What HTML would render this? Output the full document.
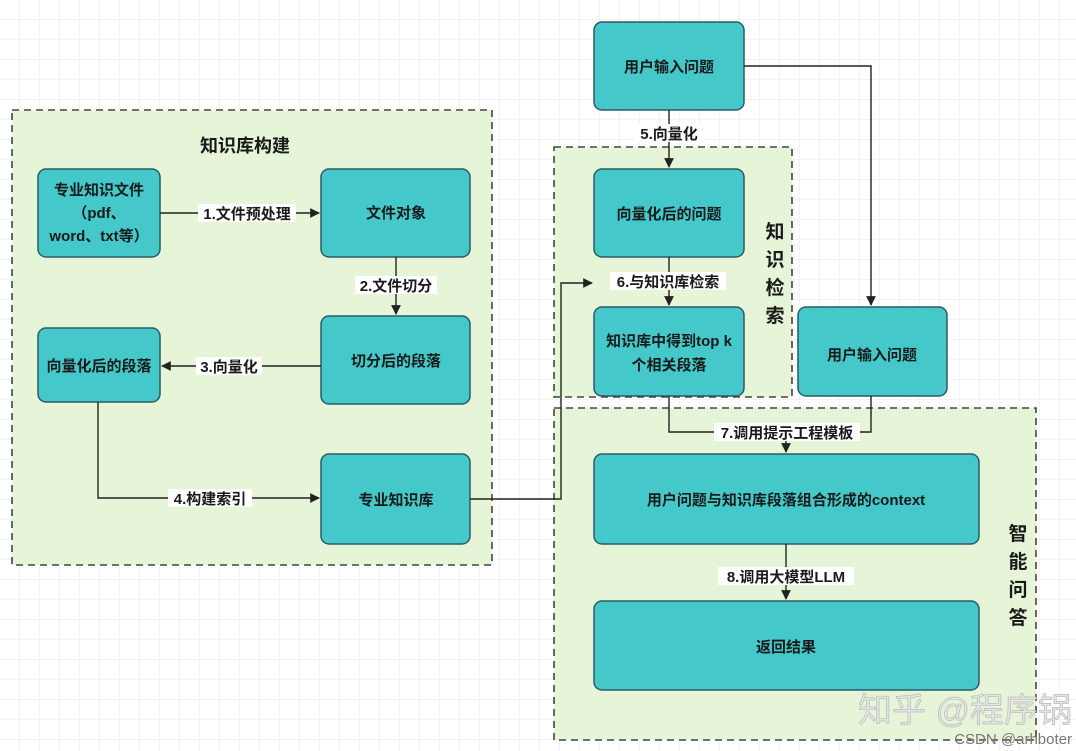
<!DOCTYPE html>
<html><head><meta charset="utf-8"><style>
html,body{margin:0;padding:0;background:#fff}
svg{display:block}
text{font-family:"Liberation Sans","Noto Sans CJK SC",sans-serif;font-weight:bold;fill:#1a1a1a}
text.n{font-weight:normal}
</style></head><body>
<svg width="1076" height="751" viewBox="0 0 1076 751" xmlns="http://www.w3.org/2000/svg">
<defs>
<pattern id="g" width="20" height="20" patternUnits="userSpaceOnUse"><path d="M20 0V20M0 20H20" stroke="#e6e6e6" stroke-width="1" fill="none"/></pattern>
<marker id="a" viewBox="0 0 10 10" refX="9" refY="5" markerWidth="7" markerHeight="7" orient="auto"><path d="M0 0L10 5L0 10z" fill="#222"/></marker>
</defs>
<rect width="1076" height="751" fill="url(#g)"/>
<g fill="#e6f5d8" stroke="#444" stroke-width="1.6" stroke-dasharray="7,5">
<rect x="12" y="110" width="480" height="455"/>
<rect x="554" y="147" width="238" height="250"/>
<rect x="554" y="408" width="482" height="332"/>
</g>
<text x="245" y="152" font-size="18" text-anchor="middle">知识库构建</text>
<g font-size="19" text-anchor="middle">
<text x="775" y="238">知</text><text x="775" y="266">识</text><text x="775" y="294">检</text><text x="775" y="322">索</text>
<text x="1018" y="540">智</text><text x="1018" y="568">能</text><text x="1018" y="596">问</text><text x="1018" y="624">答</text>
</g>
<g fill="#45c8c9" stroke="#2a5a66" stroke-width="1.5">
<rect x="38" y="169" width="122" height="88" rx="8"/>
<rect x="321" y="169" width="149" height="88" rx="8"/>
<rect x="321" y="316" width="149" height="88" rx="8"/>
<rect x="38" y="328" width="122" height="74" rx="8"/>
<rect x="321" y="454" width="149" height="90" rx="8"/>
<rect x="594" y="22" width="150" height="88" rx="8"/>
<rect x="594" y="169" width="150" height="88" rx="8"/>
<rect x="594" y="307" width="150" height="89" rx="8"/>
<rect x="798" y="307" width="149" height="89" rx="8"/>
<rect x="594" y="454" width="385" height="90" rx="8"/>
<rect x="594" y="601" width="385" height="89" rx="8"/>
</g>
<g stroke="#222" stroke-width="1.4" fill="none">
<path d="M160 213H319" marker-end="url(#a)"/>
<path d="M396 257V314" marker-end="url(#a)"/>
<path d="M321 366H162" marker-end="url(#a)"/>
<path d="M98 402V498H319" marker-end="url(#a)"/>
<path d="M470 499H561V283H592" marker-end="url(#a)"/>
<path d="M669 110V167" marker-end="url(#a)"/>
<path d="M669 257V305" marker-end="url(#a)"/>
<path d="M744 66H871V305" marker-end="url(#a)"/>
<path d="M669 396V432H871V396"/>
<path d="M786 432V452" marker-end="url(#a)"/>
<path d="M786 544V599" marker-end="url(#a)"/>
</g>
<g font-size="15" text-anchor="middle">
<rect x="198" y="204" width="98" height="18" fill="#fff"/><text x="247" y="219">1.文件预处理</text>
<rect x="355" y="276" width="82" height="18" fill="#fff"/><text x="396" y="291">2.文件切分</text>
<rect x="196" y="357" width="66" height="18" fill="#fff"/><text x="229" y="372">3.向量化</text>
<rect x="168" y="489" width="84" height="18" fill="#fff"/><text x="210" y="504">4.构建索引</text>
<rect x="634" y="124" width="70" height="18" fill="#fff"/><text x="669" y="139">5.向量化</text>
<rect x="610" y="272" width="116" height="18" fill="#fff"/><text x="668" y="287">6.与知识库检索</text>
<rect x="714" y="423" width="146" height="18" fill="#fff"/><text x="787" y="438">7.调用提示工程模板</text>
<rect x="718" y="567" width="136" height="18" fill="#fff"/><text x="786" y="582">8.调用大模型LLM</text>
</g>
<g font-size="15" text-anchor="middle">
<text x="99" y="195">专业知识文件</text><text x="99" y="218">（pdf、</text><text x="99" y="241">word、txt等）</text>
<text x="396" y="218">文件对象</text>
<text x="396" y="366">切分后的段落</text>
<text x="99" y="371">向量化后的段落</text>
<text x="396" y="505">专业知识库</text>
<text x="669" y="72">用户输入问题</text>
<text x="669" y="219">向量化后的问题</text>
<text x="669" y="346">知识库中得到top k</text><text x="669" y="370">个相关段落</text>
<text x="872" y="360">用户输入问题</text>
<text x="786" y="505">用户问题与知识库段落组合形成的context</text>
<text x="786" y="652">返回结果</text>
</g>
<text class="n" x="965" y="722" font-size="34" text-anchor="middle" style="fill:#e4e4e4;stroke:#aaa;stroke-width:0.5">知乎 @程序锅</text>
<text class="n" x="1072" y="744" font-size="15" text-anchor="end" style="fill:#777">CSDN @arhboter</text>
</svg>
</body></html>
